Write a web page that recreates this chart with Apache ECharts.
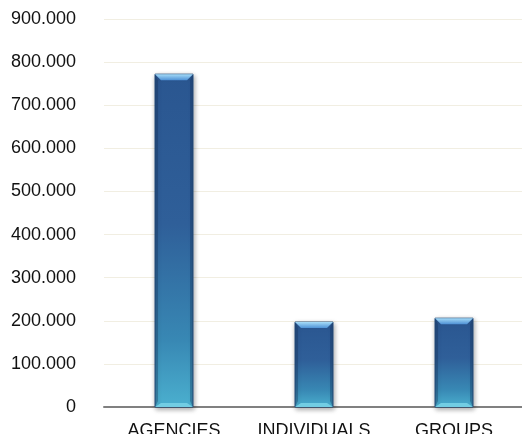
<!DOCTYPE html>
<html>
<head>
<meta charset="utf-8">
<script src="https://cdn.jsdelivr.net/npm/echarts@6/dist/echarts.min.js"></script>
<style>
  html, body { margin: 0; padding: 0; background: #fff; }
  #main { width: 522px; height: 434px; }
</style>
</head>
<body>
<div id="main"></div>
<script>
// categories and values
var categories = ['AGENCIES', 'INDIVIDUALS', 'GROUPS'];
var values = [772000, 197000, 206000];
var yTicks = { min: 0, max: 900000, interval: 100000 };

// 900000 -> "900.000"
function fmt(v) {
	return String(v).replace(/\B(?=(\d{3})+(?!\d))/g, '.');
}

var LG = echarts.graphic.LinearGradient;

// bevelled bar, placed with the axes' own coords
function renderBar(params, api) {
	var top = api.coord([api.value(0), api.value(1)]);
	var base = api.coord([api.value(0), 0]);
	var w = 38, b = 6;
	var x0 = top[0] - w / 2, x1 = top[0] + w / 2;
	var y0 = top[1], y1 = base[1];
	var h = y1 - y0;
	return {
		type: 'group',
		children: [{
			type: 'rect',
			shape: { x: x0, y: y0, width: w, height: h },
			style: {
				fill: new LG(0, 0, 0, 1, [
					{ offset: 0, color: '#2a5690' },
					{ offset: 0.45, color: '#2f5f99' },
					{ offset: 0.8, color: '#3888b4' },
					{ offset: 1, color: '#4bb0cf' }
				]),
				stroke: '#28517f',
				lineWidth: 1,
				shadowColor: 'rgba(0,0,0,0.35)',
				shadowBlur: 5,
				shadowOffsetX: 1,
				shadowOffsetY: 2
			}
		}, {
			// left and right edge shading
			type: 'polygon',
			shape: { points: [[x0, y0], [x0 + 3, y0 + b], [x0 + 3, y1 - b], [x0, y1]] },
			style: { fill: 'rgba(20,50,90,0.35)' }
		}, {
			type: 'polygon',
			shape: { points: [[x1, y0], [x1 - 3, y0 + b], [x1 - 3, y1 - b], [x1, y1]] },
			style: { fill: 'rgba(20,50,90,0.35)' }
		}, {
			// top bevel
			type: 'polygon',
			shape: { points: [[x0, y0], [x1, y0], [x1 - b, y0 + b], [x0 + b, y0 + b]] },
			style: {
				fill: new LG(0, 0, 0, 1, [
					{ offset: 0, color: '#a6dcf8' },
					{ offset: 1, color: '#4f92d6' }
				])
			}
		}, {
			// bottom bevel
			type: 'polygon',
			shape: { points: [[x0, y1], [x1, y1], [x1 - b, y1 - 4], [x0 + b, y1 - 4]] },
			style: { fill: '#72cde3' }
		}]
	};
}

var myChart = echarts.init(document.getElementById('main'));
myChart.setOption({
	animation: false,
	grid: {
		left: 104,
		width: 420,
		top: 19,
		bottom: 27,
		containLabel: false,
		outerBoundsMode: 'none'
	},
	xAxis: {
		type: 'category',
		data: categories,
		axisLine: { lineStyle: { color: '#808080', width: 2 } },
		axisTick: { show: false },
		axisLabel: {
			interval: 0,
			color: '#111',
			fontSize: 18,
			fontFamily: 'Liberation Sans, Arial, sans-serif',
			margin: 15
		}
	},
	yAxis: {
		type: 'value',
		min: yTicks.min,
		max: yTicks.max,
		interval: yTicks.interval,
		axisLine: { show: false },
		axisTick: { show: false },
		splitLine: { lineStyle: { color: '#f1eee2', width: 1 } },
		axisLabel: {
			color: '#111',
			fontSize: 18,
			fontFamily: 'Liberation Sans, Arial, sans-serif',
			margin: 28,
			formatter: fmt
		}
	},
	series: [{
		type: 'custom',
		renderItem: renderBar,
		encode: { x: 0, y: 1 },
		data: values.map(function(v, i) { return [i, v]; }),
		z: 3
	}]
});
</script>
</body>
</html>
